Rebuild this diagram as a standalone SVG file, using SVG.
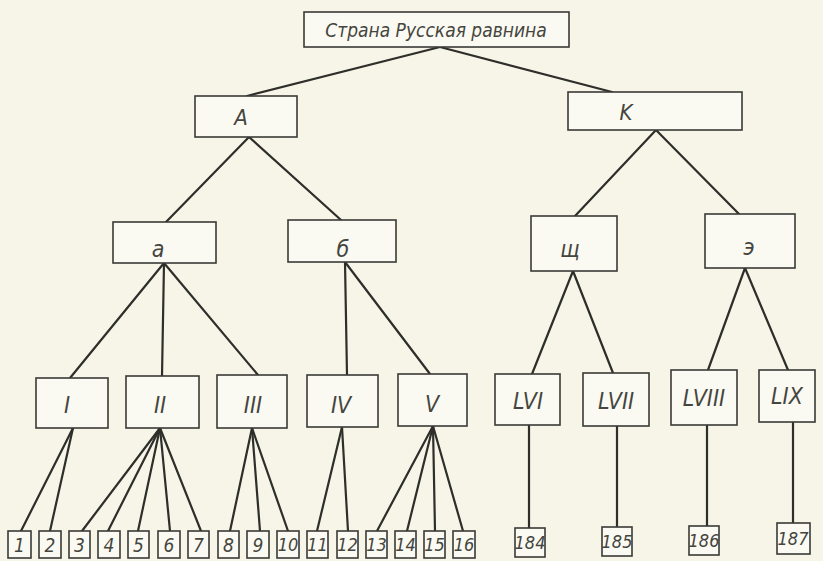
<svg xmlns="http://www.w3.org/2000/svg" width="823" height="561" viewBox="0 0 823 561">
<style>
.bg{fill:#f6f5e8}
rect.n{fill:#fbfaf2;stroke:#3a3a36;stroke-width:1.6}
text{font-family:"DejaVu Sans Condensed","Liberation Sans Narrow","Liberation Sans",sans-serif;font-style:italic;fill:#45453f;text-anchor:middle}
.t1{font-size:19px}
.t2{font-size:22px}
.t3{font-size:23px}
.t4{font-size:19px}
.t5{font-size:18px}
#connectors line{stroke:#2e2e2a;stroke-width:2.2;stroke-linecap:round}
</style>
<rect class="bg" x="0" y="0" width="823" height="561"/>
<g id="connectors">
<line x1="440" y1="47" x2="247" y2="96"/>
<line x1="440" y1="47" x2="612" y2="92"/>
<line x1="249" y1="137" x2="166" y2="222"/>
<line x1="249" y1="137" x2="341" y2="220"/>
<line x1="656" y1="130" x2="575" y2="216"/>
<line x1="656" y1="130" x2="739" y2="214"/>
<line x1="164" y1="263" x2="70" y2="378"/>
<line x1="164" y1="263" x2="162" y2="376"/>
<line x1="164" y1="263" x2="258" y2="375"/>
<line x1="345" y1="262" x2="347" y2="375"/>
<line x1="345" y1="262" x2="430" y2="374"/>
<line x1="573" y1="271" x2="532" y2="374"/>
<line x1="573" y1="271" x2="613" y2="373"/>
<line x1="745" y1="268" x2="708" y2="370"/>
<line x1="745" y1="268" x2="788" y2="370"/>
<line x1="73" y1="428" x2="21" y2="531"/>
<line x1="73" y1="428" x2="50" y2="531"/>
<line x1="160" y1="428" x2="82" y2="531"/>
<line x1="160" y1="428" x2="108" y2="531"/>
<line x1="160" y1="428" x2="138" y2="531"/>
<line x1="160" y1="428" x2="170" y2="531"/>
<line x1="160" y1="428" x2="201" y2="531"/>
<line x1="252" y1="428" x2="230" y2="531"/>
<line x1="252" y1="428" x2="260" y2="531"/>
<line x1="252" y1="428" x2="288" y2="531"/>
<line x1="342" y1="427" x2="317" y2="531"/>
<line x1="342" y1="427" x2="348" y2="531"/>
<line x1="433" y1="426" x2="377" y2="531"/>
<line x1="433" y1="426" x2="407" y2="531"/>
<line x1="433" y1="426" x2="435" y2="531"/>
<line x1="433" y1="426" x2="463" y2="531"/>
<line x1="529" y1="425" x2="529" y2="528"/>
<line x1="617" y1="426" x2="617" y2="527"/>
<line x1="707" y1="425" x2="707" y2="526"/>
<line x1="793" y1="422" x2="793" y2="523"/>
</g>
<g id="root"><rect class="n" x="304" y="12" width="265" height="35"/><text class="t1" x="436" y="37">Страна  Русская равнина</text></g>
<g id="nA"><rect class="n" x="195" y="96" width="102" height="41"/><text class="t2" x="241" y="125">A</text></g>
<g id="nK"><rect class="n" x="568" y="92" width="174" height="38"/><text class="t2" x="626" y="120">K</text></g>
<g id="na"><rect class="n" x="113" y="222" width="103" height="41"/><text class="t3" x="158" y="257">a</text></g>
<g id="nb"><rect class="n" x="288" y="220" width="108" height="42"/><text class="t3" x="343" y="257">б</text></g>
<g id="nsh"><rect class="n" x="531" y="216" width="86" height="55"/><text class="t3" x="570" y="257">щ</text></g>
<g id="ne"><rect class="n" x="705" y="214" width="90" height="54"/><text class="t3" x="749" y="255">э</text></g>
<g id="nI"><rect class="n" x="36" y="378" width="72" height="50"/><text class="t3" x="67" y="413">I</text></g>
<g id="nII"><rect class="n" x="126" y="376" width="73" height="52"/><text class="t3" x="160" y="413">II</text></g>
<g id="nIII"><rect class="n" x="217" y="375" width="70" height="53"/><text class="t3" x="253" y="413">III</text></g>
<g id="nIV"><rect class="n" x="307" y="375" width="71" height="52"/><text class="t3" x="341" y="413">IV</text></g>
<g id="nV"><rect class="n" x="398" y="374" width="69" height="52"/><text class="t3" x="432" y="412">V</text></g>
<g id="nLVI"><rect class="n" x="495" y="374" width="65" height="51"/><text class="t3" x="528" y="409">LVI</text></g>
<g id="nLVII"><rect class="n" x="583" y="373" width="66" height="53"/><text class="t3" x="616" y="409">LVII</text></g>
<g id="nLVIII"><rect class="n" x="671" y="370" width="66" height="55"/><text class="t3" x="704" y="406">LVIII</text></g>
<g id="nLIX"><rect class="n" x="759" y="370" width="56" height="52"/><text class="t3" x="787" y="404">LIX</text></g>
<g id="l1"><rect class="n" x="8" y="531" width="23" height="27"/><text class="t4" x="19.5" y="552">1</text></g>
<g id="l2"><rect class="n" x="39" y="531" width="22" height="27"/><text class="t4" x="50" y="552">2</text></g>
<g id="l3"><rect class="n" x="69" y="531" width="21" height="27"/><text class="t4" x="79.5" y="552">3</text></g>
<g id="l4"><rect class="n" x="98" y="531" width="22" height="27"/><text class="t4" x="109" y="552">4</text></g>
<g id="l5"><rect class="n" x="128" y="531" width="21" height="27"/><text class="t4" x="138.5" y="552">5</text></g>
<g id="l6"><rect class="n" x="158" y="531" width="22" height="27"/><text class="t4" x="169" y="552">6</text></g>
<g id="l7"><rect class="n" x="188" y="531" width="21" height="27"/><text class="t4" x="198.5" y="552">7</text></g>
<g id="l8"><rect class="n" x="218" y="531" width="21" height="27"/><text class="t4" x="228.5" y="552">8</text></g>
<g id="l9"><rect class="n" x="247" y="531" width="22" height="27"/><text class="t4" x="258" y="552">9</text></g>
<g id="l10"><rect class="n" x="277" y="531" width="22" height="27"/><text class="t5" x="288" y="551">10</text></g>
<g id="l11"><rect class="n" x="307" y="531" width="21" height="27"/><text class="t5" x="317.5" y="551">11</text></g>
<g id="l12"><rect class="n" x="337" y="531" width="21" height="27"/><text class="t5" x="347.5" y="551">12</text></g>
<g id="l13"><rect class="n" x="366" y="531" width="21" height="27"/><text class="t5" x="376.5" y="551">13</text></g>
<g id="l14"><rect class="n" x="395" y="531" width="21" height="27"/><text class="t5" x="405.5" y="551">14</text></g>
<g id="l15"><rect class="n" x="424" y="531" width="21" height="27"/><text class="t5" x="434.5" y="551">15</text></g>
<g id="l16"><rect class="n" x="453" y="531" width="22" height="27"/><text class="t5" x="464" y="551">16</text></g>
<g id="l184"><rect class="n" x="515" y="528" width="30" height="29"/><text class="t5" x="530" y="549">184</text></g>
<g id="l185"><rect class="n" x="602" y="527" width="30" height="29"/><text class="t5" x="617" y="548">185</text></g>
<g id="l186"><rect class="n" x="689" y="526" width="30" height="29"/><text class="t5" x="704" y="547">186</text></g>
<g id="l187"><rect class="n" x="777" y="523" width="33" height="31"/><text class="t5" x="793" y="545">187</text></g>
</svg>
